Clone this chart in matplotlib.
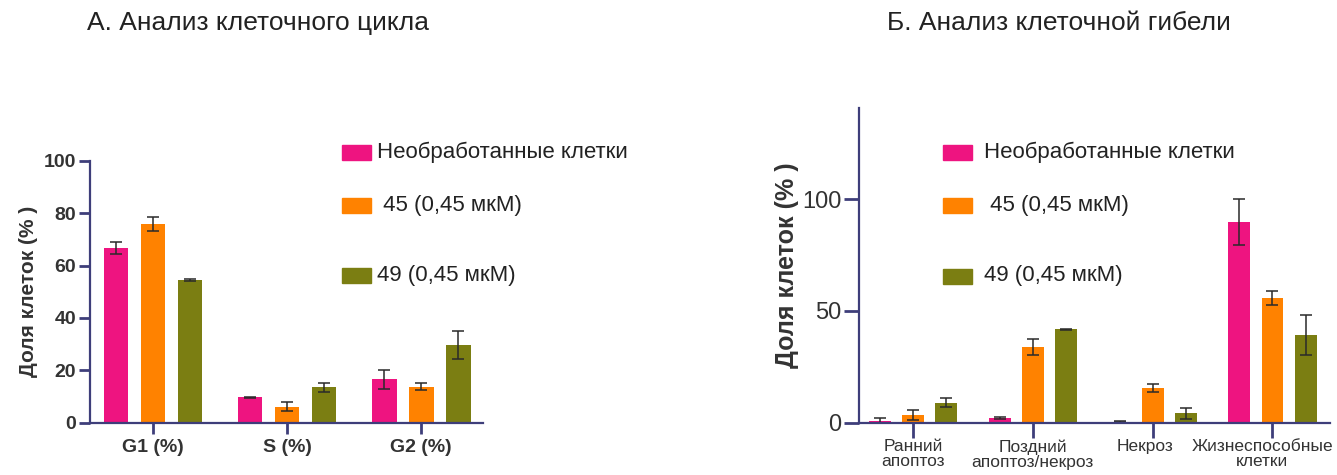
import numpy as np
import matplotlib
matplotlib.use("Agg")
import matplotlib.pyplot as plt
import matplotlib.transforms as mtransforms
from matplotlib.patches import Rectangle

plt.rcParams['font.family'] = ['Liberation Sans', 'DejaVu Sans']

# ---- data -------------------------------------------------------------
series_labels = ["Необработанные клетки", " 45 (0,45 мкМ)", "49 (0,45 мкМ)"]
series_colors = ["#EE1480", "#FF8200", "#7B7E12"]

cycle_categories = ["G1 (%)", "S (%)", "G2 (%)"]
cycle_untreated = [66.8, 9.7, 16.5]
cycle_untreated_err = [2.3, 0.2, 3.6]
cycle_c45 = [75.7, 6.1, 13.7]
cycle_c45_err = [2.7, 1.8, 1.3]
cycle_c49 = [54.5, 13.5, 29.7]
cycle_c49_err = [0.3, 1.8, 5.2]

death_categories = ["Ранний\nапоптоз", "Поздний\nапоптоз/некроз", "Некроз",
                    "Жизнеспособные\nклетки"]
death_untreated = [0.8, 2.0, 0.4, 89.6]
death_untreated_err = [1.4, 0.4, 0.2, 10.3]
death_c45 = [3.4, 33.7, 15.4, 55.9]
death_c45_err = [2.3, 3.6, 1.8, 3.1]
death_c49 = [8.9, 41.8, 4.2, 39.2]
death_c49_err = [2.0, 0.3, 2.5, 8.9]

W, H = 1337, 475
fig = plt.figure(figsize=(W / 100, H / 100), dpi=100)
fig.patch.set_facecolor("white")

axis_color = "#3E3E7A"
text_color = "#333333"
bar_w = 0.183
offset = 0.276


def px_rect(x0, y_bottom, x1, y_top):
    return [x0 / W, 1 - y_bottom / H, (x1 - x0) / W, (y_bottom - y_top) / H]


def draw_bars(ax, cats, vals, errs):
    x = np.arange(len(cats))
    for i, (v, e) in enumerate(zip(vals, errs)):
        ax.bar(x + (i - 1) * offset, v, width=bar_w, color=series_colors[i],
               yerr=e, capsize=4.5,
               error_kw=dict(ecolor="#2a2a2a", elinewidth=1.1, capthick=1.1),
               zorder=2)
    ax.set_xticks(x)
    ax.set_xticklabels(cats)


def style_axis(ax, tick_len, ypad, xpad):
    for s in ("top", "right"):
        ax.spines[s].set_visible(False)
    for s in ("left", "bottom"):
        ax.spines[s].set_color(axis_color)
        ax.spines[s].set_linewidth(1.6)
    ax.tick_params(axis="both", colors=axis_color, length=tick_len, width=2.0,
                   labelcolor=text_color)
    ax.tick_params(axis="y", pad=ypad)
    ax.tick_params(axis="x", pad=xpad)


def draw_legend(x_sq, x_txt, rows_y):
    for lab, col, yc in zip(series_labels, series_colors, rows_y):
        fig.add_artist(Rectangle(((x_sq) / W, 1 - (yc + 7.5) / H), 29 / W, 15 / H,
                                 transform=fig.transFigure, color=col))
        fig.text(x_txt / W, 1 - yc / H, lab, fontsize=16, color="#222222",
                 va="center", ha="left")


# ---- A: cell cycle ----------------------------------------------------
ax1 = fig.add_axes(px_rect(90, 422.7, 483, 160.7))
draw_bars(ax1, cycle_categories,
          [cycle_untreated, cycle_c45, cycle_c49],
          [cycle_untreated_err, cycle_c45_err, cycle_c49_err])
ax1.set_xlim(-0.47, 2.46)
ax1.set_ylim(0, 100)
ax1.set_yticks([0, 20, 40, 60, 80, 100])
style_axis(ax1, 8, 2, 3.5)
for lbl in ax1.get_xticklabels() + ax1.get_yticklabels():
    lbl.set_fontsize(14)
    lbl.set_fontweight("bold")
ax1.set_ylabel("Доля клеток (% )", fontsize=15, fontweight="bold",
               color=text_color, labelpad=4)

fig.text(258 / W, 1 - 23 / H, "А. Анализ клеточного цикла", fontsize=19,
         color="#222222", ha="center", va="center")
draw_legend(342, 377, [152, 205, 275])

# ---- Б: cell death ----------------------------------------------------
ax2 = fig.add_axes(px_rect(859, 422.7, 1330, 108))
draw_bars(ax2, death_categories,
          [death_untreated, death_c45, death_c49],
          [death_untreated_err, death_c45_err, death_c49_err])
ax2.set_xlim(-0.45, 3.48)
ax2.set_ylim(0, 140.7)
ax2.set_yticks([0, 50, 100])
style_axis(ax2, 11, 1.5, 1)
for lbl in ax2.get_yticklabels():
    lbl.set_fontsize(17)
label_shift_px = [0, 0, -8, -10]
for lbl, dx in zip(ax2.get_xticklabels(), label_shift_px):
    lbl.set_fontsize(12.5)
    lbl.set_linespacing(1.0)
    lbl.set_transform(lbl.get_transform() +
                      mtransforms.ScaledTranslation(dx / 100, 0, fig.dpi_scale_trans))
ax2.set_ylabel("Доля клеток (% )", fontsize=18, fontweight="bold",
               color=text_color, labelpad=2)

fig.text(1059 / W, 1 - 23 / H, "Б. Анализ клеточной гибели", fontsize=19,
         color="#222222", ha="center", va="center")
draw_legend(943, 984, [152, 206, 276])

fig.savefig("out.png", dpi=100, facecolor="white")
